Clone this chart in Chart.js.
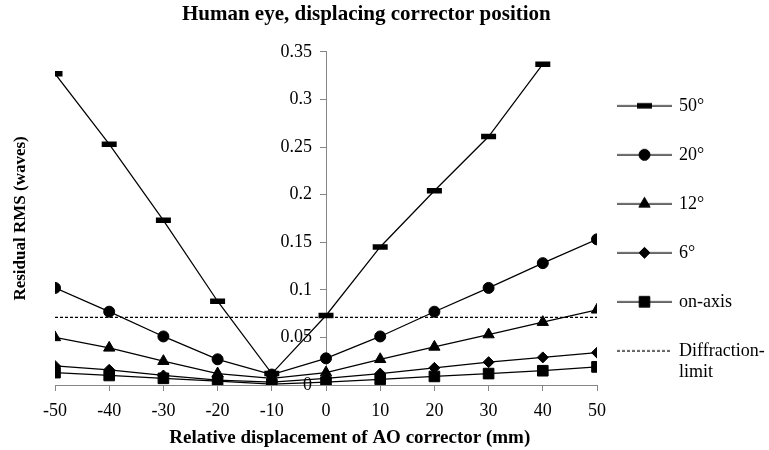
<!DOCTYPE html>
<html><head><meta charset="utf-8">
<script src="https://cdn.jsdelivr.net/npm/chart.js@4.4.1/dist/chart.umd.min.js"></script>
<style>html,body{margin:0;padding:0;background:#fff}#wrap{width:769px;height:450px;position:relative}</style>
</head><body><div id="wrap"><canvas id="c" width="769" height="450"></canvas></div>
<script>
const xValues = [-50, -40, -30, -20, -10, 0, 10, 20, 30, 40, 50];
const xTickLabels = ['-50', '-40', '-30', '-20', '-10', '0', '10', '20', '30', '40', '50'];
const yTickLabels = ['0', '0.05', '0.1', '0.15', '0.2', '0.25', '0.3', '0.35'];
const seriesNames = ['50°', '20°', '12°', '6°', 'on-axis'];
const deg50  = [0.327, 0.253, 0.173, 0.088, 0.012, 0.073, 0.145, 0.204, 0.261, 0.337, null];
const deg20  = [0.102, 0.077, 0.051, 0.027, 0.011, 0.028, 0.051, 0.077, 0.102, 0.128, 0.153];
const deg12  = [0.050, 0.039, 0.025, 0.012, 0.007, 0.013, 0.027, 0.040, 0.053, 0.066, 0.079];
const deg6   = [0.020, 0.016, 0.010, 0.005, 0.003, 0.007, 0.012, 0.018, 0.024, 0.029, 0.034];
const onAxis = [0.013, 0.010, 0.007, 0.004, 0.001, 0.003, 0.006, 0.009, 0.012, 0.015, 0.019];
const diffractionLimit = [0.071, 0.071, 0.071, 0.071, 0.071, 0.071, 0.071, 0.071, 0.071, 0.071, 0.071];
const diffractionLabel = ['Diffraction-', 'limit'];
const chartTitle = 'Human eye, displacing corrector position';
const xTitle = 'Relative displacement of AO corrector (mm)';
const yTitle = 'Residual RMS (waves)';

const SERIF = "'Liberation Serif', 'Times New Roman', serif";
Chart.defaults.font.family = SERIF;
Chart.defaults.color = '#000';
const NB = '\u00a0';

const seriesValues = [deg50, deg20, deg12, deg6, onAxis];
const markers = [
  {pointStyle: 'line', radius: 7.5, borderWidth: 5.5},
  {pointStyle: 'circle', radius: 5.5, borderWidth: 1},
  {pointStyle: 'triangle', radius: 6.5, borderWidth: 1},
  {pointStyle: 'rectRot', radius: 5.5, borderWidth: 1},
  {pointStyle: 'rect', radius: 7.5, borderWidth: 1}
];
const toPoints = (arr) => xValues.map((x, i) => ({x: x, y: arr[i]}));

function makeSample(i) {
  const c = document.createElement('canvas');
  c.width = 64; c.height = 20;
  const g = c.getContext('2d');
  g.strokeStyle = '#000'; g.fillStyle = '#000'; g.lineWidth = 1.25;
  if (i === 5) g.setLineDash([3, 2]);
  g.beginPath(); g.moveTo(0, 10); g.lineTo(55, 10); g.stroke();
  g.setLineDash([]);
  if (i < 5) {
    const m = markers[i];
    g.lineWidth = m.borderWidth;
    Chart.helpers.drawPoint(g, {pointStyle: m.pointStyle, radius: m.radius, borderWidth: m.borderWidth, rotation: 0}, 27.5, 10);
  }
  return c;
}

const datasets = seriesValues.map((vals, i) => ({
  label: seriesNames[i],
  data: toPoints(vals),
  borderColor: '#000', backgroundColor: '#000', borderWidth: 1.25,
  pointStyle: markers[i].pointStyle, pointRadius: markers[i].radius,
  pointBorderWidth: markers[i].borderWidth, pointBackgroundColor: '#000', pointBorderColor: '#000',
  xAxisID: 'x', yAxisID: 'y'
}));
datasets.push({
  label: 'Diffraction-limit',
  data: toPoints(diffractionLimit),
  borderColor: '#000', borderWidth: 1.2, borderDash: [3, 2], pointRadius: 0,
  xAxisID: 'x', yAxisID: 'y'
});
const samples = datasets.map((d, i) => makeSample(i));

// legend geometry: padding 31, sample width 42, gap 9, +10 extra -> legend starts at the plot's right edge (597)
const mctx = document.createElement('canvas').getContext('2d');
mctx.font = "normal 18px " + SERIF;
const legendTextW = mctx.measureText(diffractionLabel[0]).width;
const padRight = 769 - 597 - (31 + 42 + 9 + legendTextW + 10);

const chart = new Chart(document.getElementById('c'), {
  type: 'line',
  data: {datasets: datasets},
  options: {
    responsive: false, animation: false,
    layout: {padding: {left: 0, right: padRight, top: 0, bottom: 0}},
    plugins: {
      tooltip: {enabled: false},
      title: {display: true, text: chartTitle + NB.repeat(8), font: {size: 21, weight: 'bold'}, color: '#000', padding: {top: 2, bottom: 24.6}},
      legend: {
        position: 'right', align: 'start', maxWidth: 300,
        title: {display: true, text: ' ', font: {size: 10, lineHeight: 1}, padding: {top: 28, bottom: 27.8}},
        labels: {
          usePointStyle: true, pointStyleWidth: 42, padding: 31, color: '#000',
          font: {size: 18, lineHeight: 1.2},
          generateLabels: (ch) => ch.data.datasets.map((ds, i) => ({
            text: i === 5 ? diffractionLabel : ds.label,
            pointStyle: samples[i], fillStyle: '#000', strokeStyle: '#000', lineWidth: 0,
            hidden: false, datasetIndex: i, fontColor: '#000'
          }))
        }
      }
    },
    scales: {
      x: {
        type: 'linear', position: 'bottom', min: -50, max: 50,
        ticks: {stepSize: 10, font: {size: 18}, color: '#000', padding: 9, maxRotation: 0, callback: (v, i) => xTickLabels[i]},
        grid: {display: true, drawOnChartArea: false, drawTicks: true, tickLength: 6, color: '#868686'},
        border: {display: true, color: '#868686', width: 1},
        title: {display: true, text: NB.repeat(10) + xTitle, font: {size: 19, weight: 'bold'}, color: '#000', padding: {top: 4, bottom: 0.6}},
        afterFit: (s) => { s.height = 65; }
      },
      y: {
        type: 'linear', position: 'center', min: 0, max: 0.35,
        ticks: {stepSize: 0.05, font: {size: 18}, color: '#000', padding: 8, callback: (v, i) => yTickLabels[i]},
        grid: {display: true, drawOnChartArea: false, drawTicks: true, tickLength: 6, color: '#868686'},
        border: {display: true, color: '#868686', width: 1}
      },
      y2: {
        type: 'linear', position: 'left', min: 0, max: 0.35,
        ticks: {display: false}, grid: {display: false}, border: {display: false},
        title: {display: true, text: yTitle, font: {size: 17, weight: 'bold'}, color: '#000', padding: {top: 10, bottom: 0}},
        afterFit: (s) => { s.width = 55; }
      }
    }
  }
});
</script>
</body></html>
